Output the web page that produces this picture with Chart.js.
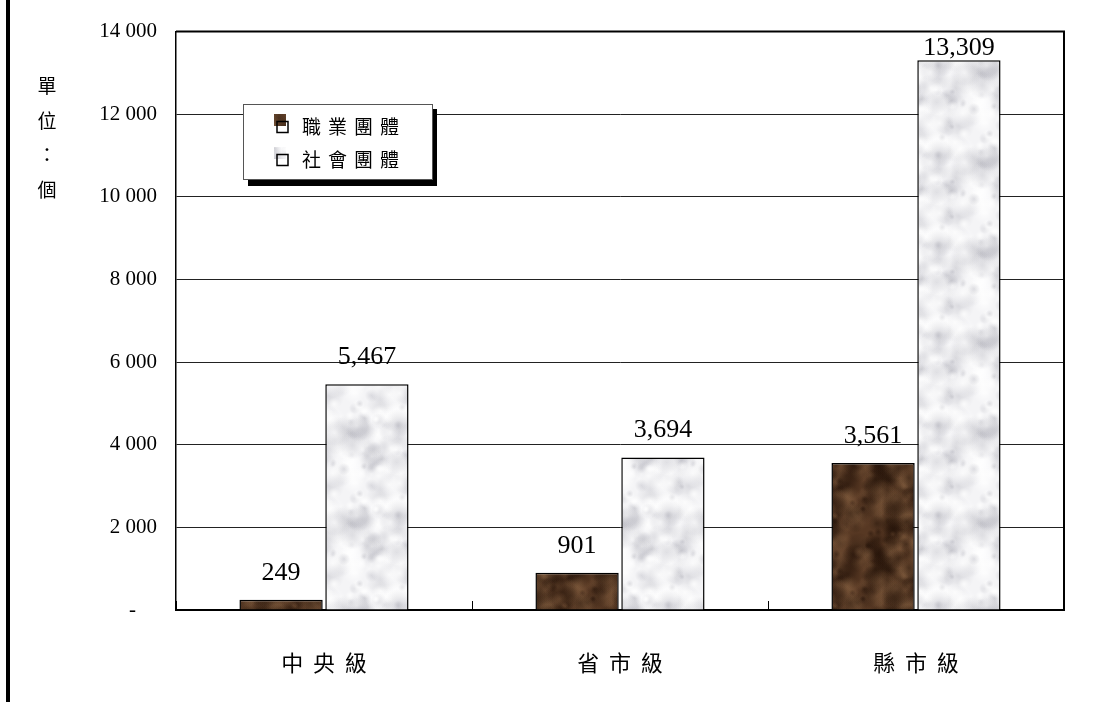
<!DOCTYPE html>
<html>
<head>
<meta charset="utf-8">
<script src="https://cdn.jsdelivr.net/npm/chart.js@4/dist/chart.umd.min.js"></script>
<style>
  body { margin: 0; background: #fff; }
  canvas { display: block; }
</style>
</head>
<body>
<canvas id="orgChart" width="1112" height="702"></canvas>
<script>
// data
const categories = ["中央級", "省市級", "縣市級"];
const seriesNames = ["職業團體", "社會團體"];
const occupational = [249, 901, 3561];
const social = [5467, 3694, 13309];
const tickLabels = ["-", "2 000", "4 000", "6 000", "8 000", "10 000", "12 000", "14 000"];
const unitTitle = ["單", "位", "：", "個"];

const serif = "'Liberation Serif', 'Times New Roman', serif";
const cjk = "'Noto Sans CJK TC', 'Noto Sans CJK SC', sans-serif";

// marble-like fill textures for the bars
function makeTexture(base, dark, light, count, seed) {
  const size = 90;
  const c = document.createElement("canvas");
  c.width = size; c.height = size;
  const g = c.getContext("2d");
  g.fillStyle = base;
  g.fillRect(0, 0, size, size);
  let s = seed;
  const rnd = () => (s = (s * 16807) % 2147483647) / 2147483647;
  for (let i = 0; i < count; i++) {
    const x = rnd() * size, y = rnd() * size, r = 3 + rnd() * 13;
    const col = rnd() < 0.55 ? dark : light;
    for (let dx = -size; dx <= size; dx += size) {
      for (let dy = -size; dy <= size; dy += size) {
        const grad = g.createRadialGradient(x + dx, y + dy, 0, x + dx, y + dy, r);
        grad.addColorStop(0, `rgba(${col[0]},${col[1]},${col[2]},${col[3]})`);
        grad.addColorStop(1, `rgba(${col[0]},${col[1]},${col[2]},0)`);
        g.fillStyle = grad;
        g.fillRect(x + dx - r, y + dy - r, r * 2, r * 2);
      }
    }
  }
  return c;
}

const ctx = document.getElementById("orgChart").getContext("2d");
const brownTex = makeTexture("#573823", [35, 18, 8, 0.5], [150, 110, 75, 0.3], 160, 12345);
const whiteTex = makeTexture("#f4f4f6", [150, 150, 162, 0.28], [255, 255, 255, 0.8], 110, 67890);
const brownFill = ctx.createPattern(brownTex, "repeat");
const whiteFill = ctx.createPattern(whiteTex, "repeat");
const swatches = [brownFill, whiteFill];

// page edge, plot frame, unit title, value labels and legend
const decor = {
  id: "decor",
  beforeDraw(chart) {
    const c = chart.ctx;
    c.save();
    c.fillStyle = "#000";
    c.fillRect(6, 0, 4, chart.height);
    c.restore();
  },
  beforeDatasetsDraw(chart) {
    const c = chart.ctx, a = chart.chartArea;
    c.save();
    c.strokeStyle = "#000";
    c.lineWidth = 2;
    c.beginPath();
    c.moveTo(a.left, a.top);
    c.lineTo(a.right, a.top);
    c.lineTo(a.right, a.bottom);
    c.stroke();
    c.restore();
  },
  afterDatasetsDraw(chart) {
    const c = chart.ctx, a = chart.chartArea;
    c.save();
    c.fillStyle = "#000";
    c.font = "26px " + serif;
    c.textAlign = "center";
    c.textBaseline = "middle";
    chart.data.datasets.forEach((ds, di) => {
      chart.getDatasetMeta(di).data.forEach((bar, i) => {
        const y = Math.max(bar.y - 27, a.top + 17);
        c.fillText(ds.data[i].toLocaleString("en-US"), bar.x, y);
      });
    });
    c.restore();
  },
  afterDraw(chart) {
    const c = chart.ctx;
    c.save();
    // unit title, stacked
    c.fillStyle = "#000";
    c.font = "19px " + cjk;
    c.textAlign = "center";
    c.textBaseline = "middle";
    unitTitle.forEach((ch, i) => c.fillText(ch, 47, 86 + i * 34.5));

    // legend box with drop shadow
    const lx = 243, ly = 104, lw = 189, lh = 75;
    c.fillStyle = "#000";
    c.fillRect(lx + 5, ly + 5, lw, lh + 2);
    c.fillStyle = "#fff";
    c.fillRect(lx, ly, lw, lh);
    c.strokeStyle = "#555";
    c.lineWidth = 1;
    c.strokeRect(lx + 0.5, ly + 0.5, lw, lh);
    c.font = "19px " + cjk;
    c.textAlign = "left";
    c.letterSpacing = "7px";
    chart.data.datasets.forEach((ds, i) => {
      const yc = 127 + i * 33;
      c.fillStyle = swatches[i];
      c.fillRect(274, yc - 13, 12, 12);
      c.strokeStyle = "#000";
      c.lineWidth = 1.5;
      c.strokeRect(277, yc - 5.5, 11, 11);
      c.fillStyle = "#000";
      c.fillText(ds.label, 302, yc);
    });
    c.restore();
  }
};

const chart = new Chart(ctx, {
  type: "bar",
  data: {
    labels: categories,
    datasets: [
      {
        label: seriesNames[0],
        data: occupational,
        backgroundColor: brownFill,
        borderColor: "#000",
        borderWidth: 1.5
      },
      {
        label: seriesNames[1],
        data: social,
        backgroundColor: whiteFill,
        borderColor: "#000",
        borderWidth: 1.5
      }
    ]
  },
  options: {
    responsive: false,
    animation: false,
    devicePixelRatio: 1,
    layout: { padding: { left: 0, top: 28, right: 48, bottom: 0 } },
    datasets: { bar: { categoryPercentage: 0.58, barPercentage: 0.97 } },
    plugins: {
      legend: { display: false },
      tooltip: { enabled: false }
    },
    scales: {
      x: {
        grid: {
          offset: true,
          drawOnChartArea: false,
          drawTicks: true,
          tickLength: -9,
          color: "#000",
          lineWidth: 1
        },
        border: { color: "#000", width: 2 },
        ticks: {
          color: "#000",
          padding: 48,
          font: { family: cjk, size: 22 },
          callback: (v, i) => categories[i].split("").join("  ")
        },
        afterFit: scale => { scale.height = 92; }
      },
      y: {
        min: 0,
        max: 14000,
        grid: { color: "#222", lineWidth: 1, drawTicks: false },
        border: { color: "#000", width: 1.5 },
        ticks: {
          stepSize: 2000,
          color: "#000",
          padding: 19,
          font: { family: serif, size: 21 },
          callback: v => {
            const label = tickLabels[Math.round(v / 2000)];
            return v === 0 ? label + "    " : label;
          }
        },
        afterFit: scale => { scale.width = 176; }
      }
    }
  },
  plugins: [decor]
});
</script>
</body>
</html>
